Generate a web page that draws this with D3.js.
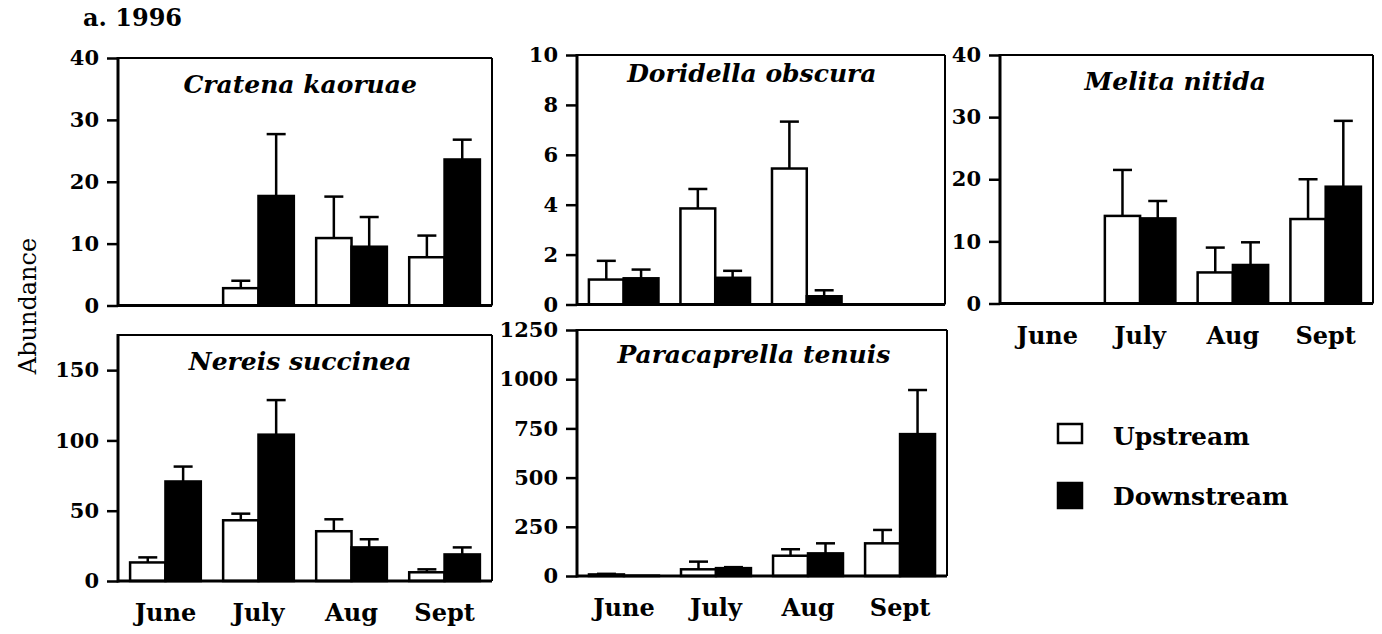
<!DOCTYPE html>
<html>
<head>
<meta charset="utf-8">
<script src="https://cdn.jsdelivr.net/npm/d3@7"></script>
<style>
  html, body { margin: 0; padding: 0; background: #fff; }
  svg { display: block; }
  text { font-family: "DejaVu Serif", "Liberation Serif", serif; fill: #000; }
</style>
</head>
<body>
<div id="chart"></div>
<script>
// Mean abundance (with one standard error) of five species, upstream vs downstream, 1996.
const months = ["June", "July", "Aug", "Sept"];
const sites = ["Upstream", "Downstream"];

// Cratena kaoruae
const cratenaUp = [null, 2.8, 10.9, 7.8];
const cratenaUpErr = [null, 1.2, 6.7, 3.5];
const cratenaDown = [null, 17.7, 9.5, 23.6];
const cratenaDownErr = [null, 10.0, 4.8, 3.2];

// Doridella obscura
const doridellaUp = [1.0, 3.85, 5.45, null];
const doridellaUpErr = [0.75, 0.78, 1.88, null];
const doridellaDown = [1.05, 1.07, 0.33, null];
const doridellaDownErr = [0.35, 0.28, 0.24, null];

// Melita nitida
const melitaUp = [null, 14.1, 5.0, 13.6];
const melitaUpErr = [null, 7.4, 4.0, 6.4];
const melitaDown = [null, 13.7, 6.2, 18.8];
const melitaDownErr = [null, 2.8, 3.65, 10.6];

// Nereis succinea
const nereisUp = [13.2, 43.2, 35.4, 6.2];
const nereisUpErr = [3.6, 4.7, 8.5, 2.1];
const nereisDown = [70.8, 104.1, 23.9, 18.9];
const nereisDownErr = [10.6, 24.6, 5.8, 5.0];

// Paracaprella tenuis
const paracaprellaUp = [8, 34, 103, 166];
const paracaprellaUpErr = [3, 39, 33, 68];
const paracaprellaDown = [2, 40, 115, 721];
const paracaprellaDownErr = [0, 5, 51, 224];

// Y-axis tick labels per panel
const ticksCratena = [0, 10, 20, 30, 40];
const ticksDoridella = [0, 2, 4, 6, 8, 10];
const ticksMelita = [0, 10, 20, 30, 40];
const ticksNereis = [0, 50, 100, 150];
const ticksParacaprella = [0, 250, 500, 750, 1000, 1250];

const W = 1382, H = 634;
const svg = d3.select("#chart").append("svg")
  .attr("width", W).attr("height", H)
  .attr("viewBox", `0 0 ${W} ${H}`);

// Panel frames (pixel layout) and the data each one shows
const panels = [
  { name: "Cratena kaoruae", left: 118, top: 58, right: 492, bottom: 305.5, ymax: 40, ticks: ticksCratena,
    up: cratenaUp, upErr: cratenaUpErr, down: cratenaDown, downErr: cratenaDownErr,
    titleFrac: 0.487, titleDy: 35, monthLabels: false },
  { name: "Doridella obscura", left: 577, top: 55, right: 945, bottom: 304.5, ymax: 10, ticks: ticksDoridella,
    up: doridellaUp, upErr: doridellaUpErr, down: doridellaDown, downErr: doridellaDownErr,
    titleFrac: 0.475, titleDy: 27, monthLabels: false },
  { name: "Melita nitida", left: 1000, top: 55, right: 1373, bottom: 303.5, ymax: 40, ticks: ticksMelita,
    up: melitaUp, upErr: melitaUpErr, down: melitaDown, downErr: melitaDownErr,
    titleFrac: 0.47, titleDy: 35, monthLabels: true },
  { name: "Nereis succinea", left: 118, top: 335, right: 492, bottom: 581, ymax: 175, ticks: ticksNereis,
    up: nereisUp, upErr: nereisUpErr, down: nereisDown, downErr: nereisDownErr,
    titleFrac: 0.487, titleDy: 35, monthLabels: true },
  { name: "Paracaprella tenuis", left: 577, top: 330, right: 947, bottom: 576, ymax: 1250, ticks: ticksParacaprella,
    up: paracaprellaUp, upErr: paracaprellaUpErr, down: paracaprellaDown, downErr: paracaprellaDownErr,
    titleFrac: 0.478, titleDy: 33, monthLabels: true }
];

panels.forEach(p => {
  const g = svg.append("g");
  const x0 = d3.scaleBand().domain(months).range([p.left, p.right])
    .paddingInner(0.24).paddingOuter(0.13);
  const x1 = d3.scaleBand().domain(sites).range([0, x0.bandwidth()]);
  const y = d3.scaleLinear().domain([0, p.ymax]).range([p.bottom, p.top]);

  // bars + error bars
  const rows = [];
  months.forEach((m, i) => {
    rows.push({ m, site: "Upstream", v: p.up[i], e: p.upErr[i] });
    rows.push({ m, site: "Downstream", v: p.down[i], e: p.downErr[i] });
  });
  const present = rows.filter(d => d.v != null);

  g.selectAll("rect.bar").data(present).join("rect")
    .attr("class", "bar")
    .attr("x", d => x0(d.m) + x1(d.site))
    .attr("y", d => y(d.v))
    .attr("width", x1.bandwidth())
    .attr("height", d => y(0) - y(d.v))
    .attr("fill", d => d.site === "Upstream" ? "#fff" : "#000")
    .attr("stroke", "#000")
    .attr("stroke-width", 2.5);

  const errs = present.filter(d => d.e > 0);
  const cx = d => x0(d.m) + x1(d.site) + x1.bandwidth() / 2;
  g.selectAll("line.err").data(errs).join("line")
    .attr("class", "err")
    .attr("x1", cx).attr("x2", cx)
    .attr("y1", d => y(d.v)).attr("y2", d => y(d.v + d.e))
    .attr("stroke", "#000").attr("stroke-width", 2.5);
  g.selectAll("line.cap").data(errs).join("line")
    .attr("class", "cap")
    .attr("x1", d => cx(d) - 9.5).attr("x2", d => cx(d) + 9.5)
    .attr("y1", d => y(d.v + d.e)).attr("y2", d => y(d.v + d.e))
    .attr("stroke", "#000").attr("stroke-width", 2.5);

  // frame: heavier left/bottom axes, lighter top/right
  g.append("line").attr("x1", p.left).attr("x2", p.right).attr("y1", p.top).attr("y2", p.top)
    .attr("stroke", "#000").attr("stroke-width", 2);
  g.append("line").attr("x1", p.right).attr("x2", p.right).attr("y1", p.top).attr("y2", p.bottom)
    .attr("stroke", "#000").attr("stroke-width", 2);
  g.append("line").attr("x1", p.left).attr("x2", p.right).attr("y1", p.bottom).attr("y2", p.bottom)
    .attr("stroke", "#000").attr("stroke-width", 3);
  g.append("line").attr("x1", p.left).attr("x2", p.left).attr("y1", p.top - 1).attr("y2", p.bottom + 1.5)
    .attr("stroke", "#000").attr("stroke-width", 3);

  // y axis ticks and labels
  const ax = g.append("g").attr("transform", `translate(${p.left},0)`)
    .call(d3.axisLeft(y).tickValues(p.ticks).tickSize(11).tickPadding(8).tickFormat(d3.format("d")));
  ax.select(".domain").remove();
  ax.selectAll(".tick line").attr("stroke", "#000").attr("stroke-width", 2.5);
  ax.selectAll(".tick text")
    .attr("font-family", "DejaVu Serif")
    .attr("font-weight", "bold")
    .attr("font-size", 21)
    .attr("fill", "#000");

  // species title
  g.append("text")
    .attr("x", p.left + (p.right - p.left) * p.titleFrac)
    .attr("y", p.top + p.titleDy)
    .attr("text-anchor", "middle")
    .attr("font-style", "italic")
    .attr("font-weight", "bold")
    .attr("font-size", 25)
    .text(p.name);

  // month labels
  if (p.monthLabels) {
    g.selectAll("text.month").data(months).join("text")
      .attr("class", "month")
      .attr("x", m => x0(m) + x0.bandwidth() / 2)
      .attr("y", p.bottom + 40)
      .attr("text-anchor", "middle")
      .attr("font-weight", "bold")
      .attr("font-size", 24)
      .text(m => m);
  }
});

// panel heading
svg.append("text").attr("x", 83).attr("y", 26)
  .attr("font-weight", "bold").attr("font-size", 24).text("a. 1996");

// shared y-axis title
svg.append("text")
  .attr("transform", "translate(36,306) rotate(-90)")
  .attr("text-anchor", "middle")
  .attr("font-size", 24)
  .text("Abundance");

// legend
const legendItems = [
  { site: "Upstream", fill: "#fff", y: 424, h: 19, ty: 445 },
  { site: "Downstream", fill: "#000", y: 483, h: 25, ty: 505 }
];
const lg = svg.append("g");
lg.selectAll("rect").data(legendItems).join("rect")
  .attr("x", 1058).attr("y", d => d.y)
  .attr("width", 24).attr("height", d => d.h)
  .attr("fill", d => d.fill).attr("stroke", "#000").attr("stroke-width", 2.5);
lg.selectAll("text").data(legendItems).join("text")
  .attr("x", 1113).attr("y", d => d.ty)
  .attr("font-weight", "bold").attr("font-size", 25)
  .text(d => d.site);
</script>
</body>
</html>
